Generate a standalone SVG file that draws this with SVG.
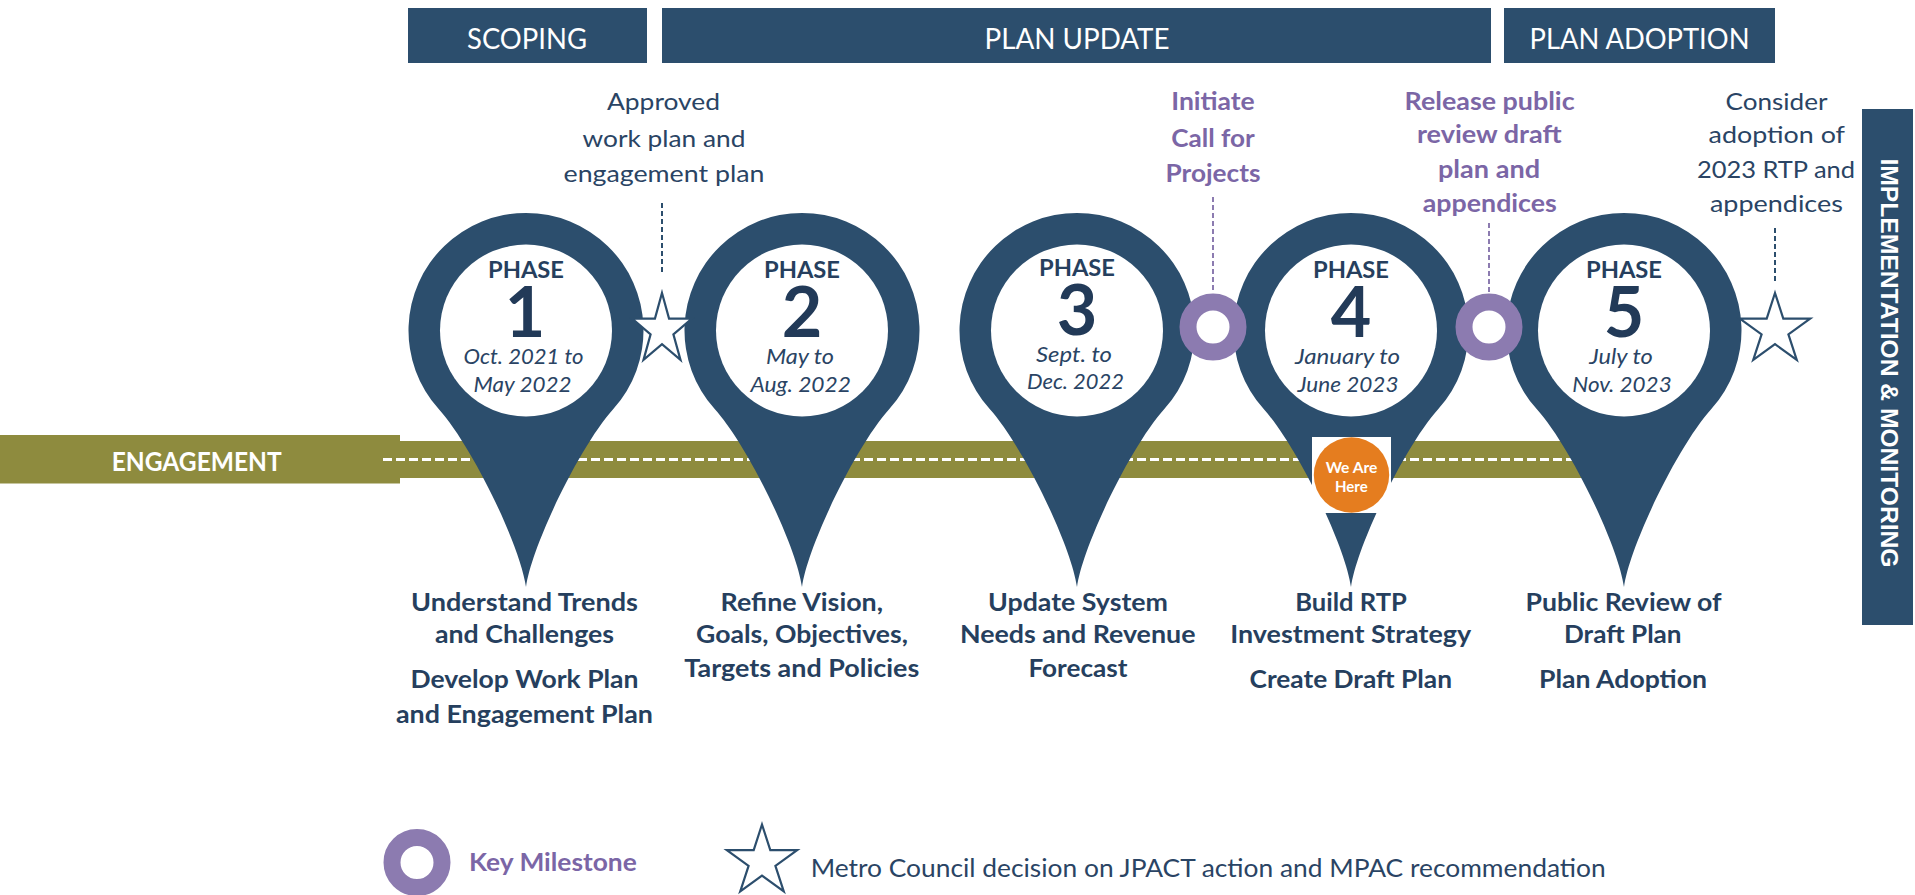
<svg xmlns="http://www.w3.org/2000/svg" width="1915" height="895" viewBox="0 0 1915 895">
<style>
text{font-family:Lato,'Open Sans','Liberation Sans',sans-serif}
.hdr{fill:#fff;font-size:29px;text-anchor:middle}
.ann{fill:#2a4464;font-size:24px;text-anchor:middle}
.pur{fill:#7b66a6;font-size:24px;font-weight:700;text-anchor:middle}
.lbl{fill:#263f5e;font-size:25px;font-weight:700;text-anchor:middle}
.ph{fill:#263f5e;font-size:23px;font-weight:700;text-anchor:middle}
.dg{fill:#223a58;font-size:70px;font-weight:700;text-anchor:middle}
.dt{fill:#2a4464;font-size:22px;font-style:italic;text-anchor:middle}
.box{fill:#2c4e6d}
.pinbody{fill:#2c4e6d}
.hole{fill:#fff}
.star{fill:#fff;stroke:#2c4e6d;stroke-width:2.2;stroke-linejoin:miter}
.ring{fill:none;stroke:#8c7bb0;stroke-width:17}
.dashD{stroke:#2c4e6d;stroke-width:2;stroke-dasharray:5 3;fill:none}
.dashP{stroke:#8c7bb0;stroke-width:2;stroke-dasharray:5 3;fill:none}
</style>
<defs>
<path id="pin" d="M0,256.5 C-6,214.5 -53.9,115.8 -87.3,78.6 A117.5,117.5 0 1 1 87.3,78.6 C53.9,115.8 6,214.5 0,256.5 Z"/>
<polygon id="starShape" points="0,-37 8.29,-11.41 35.19,-11.43 13.41,4.36 21.75,29.93 0,14.1 -21.75,29.93 -13.41,4.36 -35.19,-11.43 -8.29,-11.41"/>
</defs>

<g id="headers">
<rect class="box" x="408" y="8" width="239" height="55"/>
<text class="hdr" x="527" y="49" textLength="120" lengthAdjust="spacingAndGlyphs">SCOPING</text>
<rect class="box" x="662" y="8" width="829" height="55"/>
<text class="hdr" x="1077" y="49" textLength="185" lengthAdjust="spacingAndGlyphs">PLAN UPDATE</text>
<rect class="box" x="1504" y="8" width="271" height="55"/>
<text class="hdr" x="1639.5" y="49" textLength="220" lengthAdjust="spacingAndGlyphs">PLAN ADOPTION</text>
</g>

<g id="implementation">
<rect class="box" x="1862" y="109" width="51" height="516"/>
<text transform="translate(1881,363) rotate(90)" x="0" y="0" fill="#fff" font-family="'Liberation Sans',Arial,sans-serif" font-size="24" font-weight="700" text-anchor="middle" textLength="409" lengthAdjust="spacingAndGlyphs" style="font-family:'Liberation Sans',Arial,sans-serif">IMPLEMENTATION &amp; MONITORING</text>
</g>

<g id="engagement">
<rect x="0" y="435" width="400" height="48.5" fill="#8e8b3e"/>
<rect x="399" y="441" width="1225" height="37" fill="#8e8b3e"/>
<line x1="383" y1="459.5" x2="1600" y2="459.5" stroke="#fff" stroke-width="3" stroke-dasharray="9 4"/>
<text x="196.7" y="471" fill="#fff" font-size="26" font-weight="700" text-anchor="middle" textLength="170" lengthAdjust="spacingAndGlyphs">ENGAGEMENT</text>
</g>

<g id="phase1">
<use href="#pin" class="pinbody" transform="translate(526,330.5)"/>
<circle class="hole" cx="526" cy="330.5" r="86"/>
<text class="ph" x="526" y="278" textLength="76" lengthAdjust="spacingAndGlyphs">PHASE</text>
<text class="dg" x="525" y="336.7">1</text>
<text class="dt" x="523.5" y="363.5" textLength="120" lengthAdjust="spacingAndGlyphs">Oct. 2021 to</text>
<text class="dt" x="522.5" y="391.5" textLength="98" lengthAdjust="spacingAndGlyphs">May 2022</text>
<text class="lbl" x="524.5" y="610.7" textLength="227" lengthAdjust="spacingAndGlyphs">Understand Trends</text>
<text class="lbl" x="524.5" y="642.7" textLength="179" lengthAdjust="spacingAndGlyphs">and Challenges</text>
<text class="lbl" x="524.5" y="688" textLength="228" lengthAdjust="spacingAndGlyphs">Develop Work Plan</text>
<text class="lbl" x="524.5" y="722.7" textLength="257" lengthAdjust="spacingAndGlyphs">and Engagement Plan</text>
</g>

<g id="phase2">
<use href="#pin" class="pinbody" transform="translate(802,330.5)"/>
<circle class="hole" cx="802" cy="330.5" r="86"/>
<text class="ph" x="802" y="278" textLength="76" lengthAdjust="spacingAndGlyphs">PHASE</text>
<text class="dg" x="802" y="336.7">2</text>
<text class="dt" x="800" y="363.5" textLength="68" lengthAdjust="spacingAndGlyphs">May to</text>
<text class="dt" x="800.7" y="391.5" textLength="100.5" lengthAdjust="spacingAndGlyphs">Aug. 2022</text>
<text class="lbl" x="801.8" y="610.7" textLength="162.5" lengthAdjust="spacingAndGlyphs">Refine Vision,</text>
<text class="lbl" x="802" y="642.7" textLength="212" lengthAdjust="spacingAndGlyphs">Goals, Objectives,</text>
<text class="lbl" x="801.8" y="676.7" textLength="235" lengthAdjust="spacingAndGlyphs">Targets and Policies</text>
</g>

<g id="phase3">
<use href="#pin" class="pinbody" transform="translate(1077,330.5)"/>
<circle class="hole" cx="1077" cy="330.5" r="86"/>
<text class="ph" x="1077" y="276" textLength="76" lengthAdjust="spacingAndGlyphs">PHASE</text>
<text class="dg" x="1077" y="335">3</text>
<text class="dt" x="1074" y="361.5" textLength="76" lengthAdjust="spacingAndGlyphs">Sept. to</text>
<text class="dt" x="1075.5" y="389" textLength="97" lengthAdjust="spacingAndGlyphs">Dec. 2022</text>
<text class="lbl" x="1078" y="610.7" textLength="180" lengthAdjust="spacingAndGlyphs">Update System</text>
<text class="lbl" x="1077.7" y="643" textLength="235.5" lengthAdjust="spacingAndGlyphs">Needs and Revenue</text>
<text class="lbl" x="1078" y="677" textLength="99" lengthAdjust="spacingAndGlyphs">Forecast</text>
</g>

<g id="phase4">
<use href="#pin" class="pinbody" transform="translate(1351,330.5)"/>
<circle class="hole" cx="1351" cy="330.5" r="86"/>
<text class="ph" x="1351" y="278" textLength="76" lengthAdjust="spacingAndGlyphs">PHASE</text>
<text class="dg" x="1351" y="336.7">4</text>
<text class="dt" x="1347.5" y="363.5" textLength="105" lengthAdjust="spacingAndGlyphs">January to</text>
<text class="dt" x="1348" y="391.5" textLength="101" lengthAdjust="spacingAndGlyphs">June 2023</text>
<text class="lbl" x="1351" y="611" textLength="111.7" lengthAdjust="spacingAndGlyphs">Build RTP</text>
<text class="lbl" x="1350.7" y="643" textLength="241" lengthAdjust="spacingAndGlyphs">Investment Strategy</text>
<text class="lbl" x="1350.8" y="688" textLength="202.5" lengthAdjust="spacingAndGlyphs">Create Draft Plan</text>
</g>

<g id="we-are-here">
<rect x="1312" y="437" width="79" height="76" fill="#fff"/>
<circle cx="1351.5" cy="475" r="37.7" fill="#e57d1f"/>
<text x="1351.5" y="472.7" fill="#fff" font-size="16" font-weight="700" text-anchor="middle" textLength="51.7" lengthAdjust="spacingAndGlyphs">We Are</text>
<text x="1351.3" y="491.7" fill="#fff" font-size="16" font-weight="700" text-anchor="middle" textLength="32.7" lengthAdjust="spacingAndGlyphs">Here</text>
</g>

<g id="phase5">
<use href="#pin" class="pinbody" transform="translate(1624,330.5)"/>
<circle class="hole" cx="1624" cy="330.5" r="86"/>
<text class="ph" x="1624" y="278" textLength="76" lengthAdjust="spacingAndGlyphs">PHASE</text>
<text class="dg" x="1624" y="336.7">5</text>
<text class="dt" x="1621" y="363.5" textLength="63.5" lengthAdjust="spacingAndGlyphs">July to</text>
<text class="dt" x="1622" y="391.5" textLength="99.3" lengthAdjust="spacingAndGlyphs">Nov. 2023</text>
<text class="lbl" x="1623.5" y="611" textLength="196" lengthAdjust="spacingAndGlyphs">Public Review of</text>
<text class="lbl" x="1622.8" y="643" textLength="117.6" lengthAdjust="spacingAndGlyphs">Draft Plan</text>
<text class="lbl" x="1623" y="688" textLength="168" lengthAdjust="spacingAndGlyphs">Plan Adoption</text>
</g>

<g id="connectors">
<line class="dashD" x1="662" y1="203" x2="662" y2="275"/>
<line class="dashD" x1="1775" y1="228" x2="1775" y2="283"/>
<line class="dashP" x1="1213" y1="197" x2="1213" y2="293"/>
<line class="dashP" x1="1489" y1="223" x2="1489" y2="293"/>
</g>

<g id="milestone-approved">
<polygon class="star" transform="translate(662,330)" points="0,-37 7.05,-11.41 29.91,-11.43 11.40,4.36 18.49,29.93 0,14.1 -18.49,29.93 -11.40,4.36 -29.91,-11.43 -7.05,-11.41"/>
<text class="ann" x="663.5" y="110" textLength="113" lengthAdjust="spacingAndGlyphs">Approved</text>
<text class="ann" x="664" y="146.7" textLength="163" lengthAdjust="spacingAndGlyphs">work plan and</text>
<text class="ann" x="664" y="181.7" textLength="201" lengthAdjust="spacingAndGlyphs">engagement plan</text>
</g>

<g id="milestone-call">
<circle class="ring" cx="1213" cy="327" r="25"/>
<text class="pur" x="1213" y="110" textLength="83.5" lengthAdjust="spacingAndGlyphs">Initiate</text>
<text class="pur" x="1213" y="146.7" textLength="83.5" lengthAdjust="spacingAndGlyphs">Call for</text>
<text class="pur" x="1213" y="181.7" textLength="95" lengthAdjust="spacingAndGlyphs">Projects</text>
</g>

<g id="milestone-release">
<circle class="ring" cx="1489" cy="327" r="25"/>
<text class="pur" x="1489.6" y="110" textLength="170" lengthAdjust="spacingAndGlyphs">Release public</text>
<text class="pur" x="1489.3" y="142.7" textLength="144.7" lengthAdjust="spacingAndGlyphs">review draft</text>
<text class="pur" x="1489" y="177.7" textLength="102" lengthAdjust="spacingAndGlyphs">plan and</text>
<text class="pur" x="1489.8" y="211.7" textLength="134" lengthAdjust="spacingAndGlyphs">appendices</text>
</g>

<g id="milestone-adoption">
<use href="#starShape" class="star" transform="translate(1775,330)"/>
<text class="ann" x="1776.5" y="110" textLength="102" lengthAdjust="spacingAndGlyphs">Consider</text>
<text class="ann" x="1776.8" y="142.7" textLength="136.5" lengthAdjust="spacingAndGlyphs">adoption of</text>
<text class="ann" x="1776" y="177.7" textLength="158" lengthAdjust="spacingAndGlyphs">2023 RTP and</text>
<text class="ann" x="1776.4" y="211.7" textLength="133" lengthAdjust="spacingAndGlyphs">appendices</text>
</g>

<g id="legend">
<circle class="ring" cx="417" cy="862.5" r="25"/>
<text x="469" y="871" fill="#7b66a6" font-size="24" font-weight="700" textLength="167.7" lengthAdjust="spacingAndGlyphs">Key Milestone</text>
<use href="#starShape" class="star" transform="translate(762,861.5)"/>
<text x="810.7" y="877" fill="#2a4464" font-size="25" textLength="795" lengthAdjust="spacingAndGlyphs">Metro Council decision on JPACT action and MPAC recommendation</text>
</g>
</svg>
